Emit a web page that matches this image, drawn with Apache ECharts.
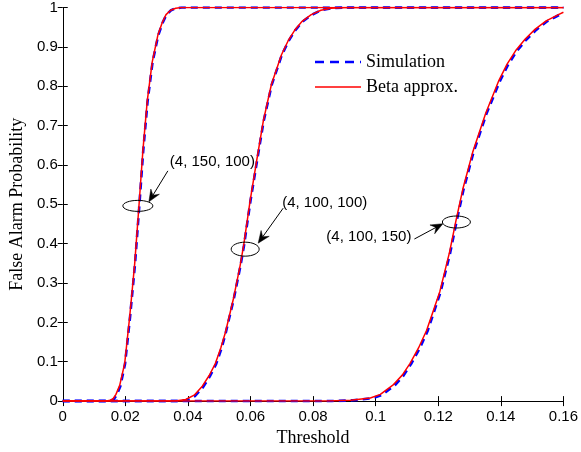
<!DOCTYPE html>
<html>
<head>
<meta charset="utf-8">
<script src="https://cdn.jsdelivr.net/npm/echarts@6/dist/echarts.min.js"></script>
<style>
html,body{margin:0;padding:0;background:#fff;}
#main{width:581px;height:452px;}
</style>
</head>
<body>
<div id="main"></div>
<script>
// ---- data ----
var xTicks = [0, 0.02, 0.04, 0.06, 0.08, 0.1, 0.12, 0.14, 0.16];
var yTicks = [0, 0.1, 0.2, 0.3, 0.4, 0.5, 0.6, 0.7, 0.8, 0.9, 1];
var legendNames = ['Simulation', 'Beta approx.'];

// (4, 150, 100)
var beta1X = [0, 0.0140, 0.0152, 0.0161, 0.0170, 0.0182, 0.0198, 0.0214, 0.0230, 0.0243, 0.0256, 0.0270, 0.0286, 0.0304, 0.0318, 0.0330, 0.0345, 0.0361, 0.0380, 0.16];
var beta1Y = [0, 0, 0.002, 0.006, 0.017, 0.040, 0.096, 0.215, 0.350, 0.490, 0.635, 0.762, 0.862, 0.930, 0.962, 0.982, 0.993, 0.998, 1, 1];
var sim1X  = [0, 0.0143, 0.0155, 0.0163, 0.0172, 0.0184, 0.0199, 0.0215, 0.0231, 0.0244, 0.0257, 0.0271, 0.0287, 0.0305, 0.0319, 0.0331, 0.0346, 0.0362, 0.0380, 0.16];
var sim1Y  = [0, 0, 0.002, 0.005, 0.015, 0.038, 0.094, 0.213, 0.349, 0.489, 0.634, 0.761, 0.861, 0.929, 0.961, 0.981, 0.993, 0.998, 1, 1];

// (4, 100, 100)
var beta2X = [0, 0.0360, 0.0393, 0.0420, 0.0446, 0.0468, 0.0488, 0.0505, 0.0520, 0.0546, 0.0567, 0.0578, 0.0599, 0.0620, 0.0641, 0.0667, 0.0699, 0.0720, 0.0741, 0.0765, 0.0794, 0.0825, 0.0857, 0.0900, 0.16];
var beta2Y = [0, 0, 0.004, 0.015, 0.038, 0.065, 0.096, 0.135, 0.175, 0.262, 0.345, 0.395, 0.510, 0.612, 0.712, 0.805, 0.880, 0.915, 0.942, 0.965, 0.982, 0.993, 0.998, 1, 1];
var sim2X  = [0, 0.0363, 0.0396, 0.0423, 0.0449, 0.0470, 0.0490, 0.0507, 0.0521, 0.0547, 0.0568, 0.0579, 0.0600, 0.0621, 0.0642, 0.0668, 0.0700, 0.0721, 0.0742, 0.0766, 0.0795, 0.0826, 0.0858, 0.0900, 0.16];
var sim2Y  = [0, 0, 0.003, 0.013, 0.036, 0.063, 0.094, 0.133, 0.174, 0.261, 0.344, 0.394, 0.509, 0.611, 0.711, 0.804, 0.879, 0.914, 0.941, 0.964, 0.981, 0.993, 0.998, 1, 1];

// (4, 100, 150)
var beta3X = [0, 0.0850, 0.0920, 0.0983, 0.1015, 0.1057, 0.1085, 0.1110, 0.1137, 0.1163, 0.1205, 0.1236, 0.1257, 0.1279, 0.1310, 0.1352, 0.1394, 0.1420, 0.1447, 0.1478, 0.1510, 0.1545, 0.1584, 0.16];
var beta3Y = [0, 0, 0.002, 0.008, 0.017, 0.042, 0.066, 0.096, 0.135, 0.180, 0.278, 0.378, 0.460, 0.540, 0.632, 0.732, 0.815, 0.856, 0.890, 0.920, 0.945, 0.966, 0.982, 0.988];
var sim3X  = [0, 0.0860, 0.0928, 0.0988, 0.1019, 0.1061, 0.1088, 0.1113, 0.1140, 0.1166, 0.1207, 0.1238, 0.1259, 0.1281, 0.1312, 0.1354, 0.1397, 0.1423, 0.1450, 0.1481, 0.1513, 0.1548, 0.1586, 0.16];
var sim3Y  = [0, 0, 0.002, 0.007, 0.015, 0.040, 0.064, 0.094, 0.133, 0.178, 0.276, 0.376, 0.458, 0.538, 0.630, 0.730, 0.813, 0.854, 0.888, 0.918, 0.943, 0.965, 0.981, 0.987];

// annotations: label, ellipse centre (data coords)
var annLabels  = ['(4, 150, 100)', '(4, 100, 100)', '(4, 100, 150)'];
var annCenterX = [0.0240, 0.0583, 0.1258];
var annCenterY = [0.496, 0.386, 0.455];

// ---- build ----
function pairs(xs, ys){ return xs.map(function(x,i){ return [x, ys[i]]; }); }

var chart = echarts.init(document.getElementById('main'), null, {renderer:'canvas'});
var tickFont = {color:'#000', fontFamily:'Liberation Sans', fontSize:15};
var axisLine = {show:true, lineStyle:{color:'#000', width:1}};
var SIM_COLOR = '#0000ff', BETA_COLOR = '#ff0000';
var SIM_DASH = [7,5];

function simSeries(xs, ys){
  return {name:legendNames[0], type:'line', data:pairs(xs, ys), symbol:'none', showSymbol:false, smooth:false,
    lineStyle:{color:SIM_COLOR, width:2.6, type:SIM_DASH}, itemStyle:{color:SIM_COLOR}, z:2, animation:false};
}
function betaSeries(xs, ys){
  return {name:legendNames[1], type:'line', data:pairs(xs, ys), symbol:'none', showSymbol:false, smooth:false,
    lineStyle:{color:BETA_COLOR, width:1.5}, itemStyle:{color:BETA_COLOR}, z:3, animation:false};
}

var option = {
  animation:false,
  backgroundColor:'#fff',
  grid:{left:59, right:16, top:6, bottom:47, containLabel:false},
  xAxis:[
    {type:'value', min:xTicks[0], max:xTicks[xTicks.length-1], interval:0.02, position:'bottom',
     name:'Threshold', nameLocation:'middle', nameGap:23,
     nameTextStyle:{color:'#000', fontFamily:'Liberation Serif', fontSize:18},
     axisLine:axisLine, axisTick:{show:true, inside:true, length:5, lineStyle:{color:'#000'}},
     axisLabel:Object.assign({margin:8, formatter:function(v){return String(+v.toFixed(2));}}, tickFont),
     splitLine:{show:false}},
    {type:'value', min:xTicks[0], max:xTicks[xTicks.length-1], interval:0.02, position:'top',
     axisLine:axisLine, axisTick:{show:true, inside:true, length:5, lineStyle:{color:'#000'}},
     axisLabel:{show:false}, splitLine:{show:false}}
  ],
  yAxis:[
    {type:'value', min:yTicks[0], max:yTicks[yTicks.length-1], interval:0.1, position:'left',
     name:'False Alarm Probability', nameLocation:'middle', nameGap:34,
     nameTextStyle:{color:'#000', fontFamily:'Liberation Serif', fontSize:18},
     axisLine:axisLine, axisTick:{show:true, inside:true, length:5, lineStyle:{color:'#000'}},
     axisLabel:Object.assign({margin:5, formatter:function(v){return String(+v.toFixed(1));}}, tickFont),
     splitLine:{show:false}},
    {type:'value', min:yTicks[0], max:yTicks[yTicks.length-1], interval:0.1, position:'right',
     axisLine:axisLine, axisTick:{show:true, inside:true, length:5, lineStyle:{color:'#000'}},
     axisLabel:{show:false}, splitLine:{show:false}}
  ],
  series:[
    simSeries(sim1X, sim1Y), simSeries(sim2X, sim2Y), simSeries(sim3X, sim3Y),
    betaSeries(beta1X, beta1Y), betaSeries(beta2X, beta2Y), betaSeries(beta3X, beta3Y)
  ]
};
chart.setOption(option);

// ---- annotations (ellipse + arrow + text), anchored to data positions ----
var ellR = [[15,5.5],[14,7],[14,6]];
var tailOff = [[30,-35],[38,-41],[-42,17]];
var tipOff  = [[11,-4],[13,-6],[-13.5,1.7]];
var textOff = [[32,-44,'left'],[37,-46,'left'],[-45,15,'right']];

function arrowHead(tail, tip){
  var dx = tip[0]-tail[0], dy = tip[1]-tail[1];
  var len = Math.sqrt(dx*dx+dy*dy); var ux = dx/len, uy = dy/len;
  var nx = -uy, ny = ux; var L = 12, W = 5;
  return [
    [tip[0], tip[1]],
    [tip[0]-ux*L+nx*W, tip[1]-uy*L+ny*W],
    [tip[0]-ux*L*0.65, tip[1]-uy*L*0.65],
    [tip[0]-ux*L-nx*W, tip[1]-uy*L-ny*W]
  ];
}

var elements = [];
for (var i = 0; i < annLabels.length; i++){
  var c = chart.convertToPixel({gridIndex:0}, [annCenterX[i], annCenterY[i]]);
  var tail = [c[0]+tailOff[i][0], c[1]+tailOff[i][1]];
  var tip  = [c[0]+tipOff[i][0],  c[1]+tipOff[i][1]];
  var head = arrowHead(tail, tip);
  elements.push({type:'ellipse', z:100, shape:{cx:c[0], cy:c[1], rx:ellR[i][0], ry:ellR[i][1]},
    style:{fill:null, stroke:'#000', lineWidth:1}});
  elements.push({type:'line', z:100, shape:{x1:tail[0], y1:tail[1], x2:head[2][0], y2:head[2][1]},
    style:{stroke:'#000', lineWidth:1}});
  elements.push({type:'polygon', z:100, shape:{points:head}, style:{fill:'#000', stroke:'#000', lineWidth:0.5}});
  elements.push({type:'text', z:100, x:c[0]+textOff[i][0], y:c[1]+textOff[i][1],
    style:{text:annLabels[i], fill:'#000', font:'15px "Liberation Sans"', align:textOff[i][2], verticalAlign:'middle'}});
}

// legend drawn as graphic (line samples + labels)
var legX0 = 315, legX1 = 361, legY = [62, 87];
elements.push({type:'line', z:100, shape:{x1:legX0, y1:legY[0], x2:legX1, y2:legY[0]},
  style:{stroke:SIM_COLOR, lineWidth:2.6, lineDash:[9,6]}});
elements.push({type:'line', z:100, shape:{x1:legX0, y1:legY[1], x2:legX1, y2:legY[1]},
  style:{stroke:BETA_COLOR, lineWidth:1.5}});
for (var k = 0; k < legendNames.length; k++){
  elements.push({type:'text', z:100, x:legX1+5, y:legY[k],
    style:{text:legendNames[k], fill:'#000', font:'18px "Liberation Serif"', align:'left', verticalAlign:'middle'}});
}
chart.setOption({graphic:{elements:elements}});
</script>
</body>
</html>
